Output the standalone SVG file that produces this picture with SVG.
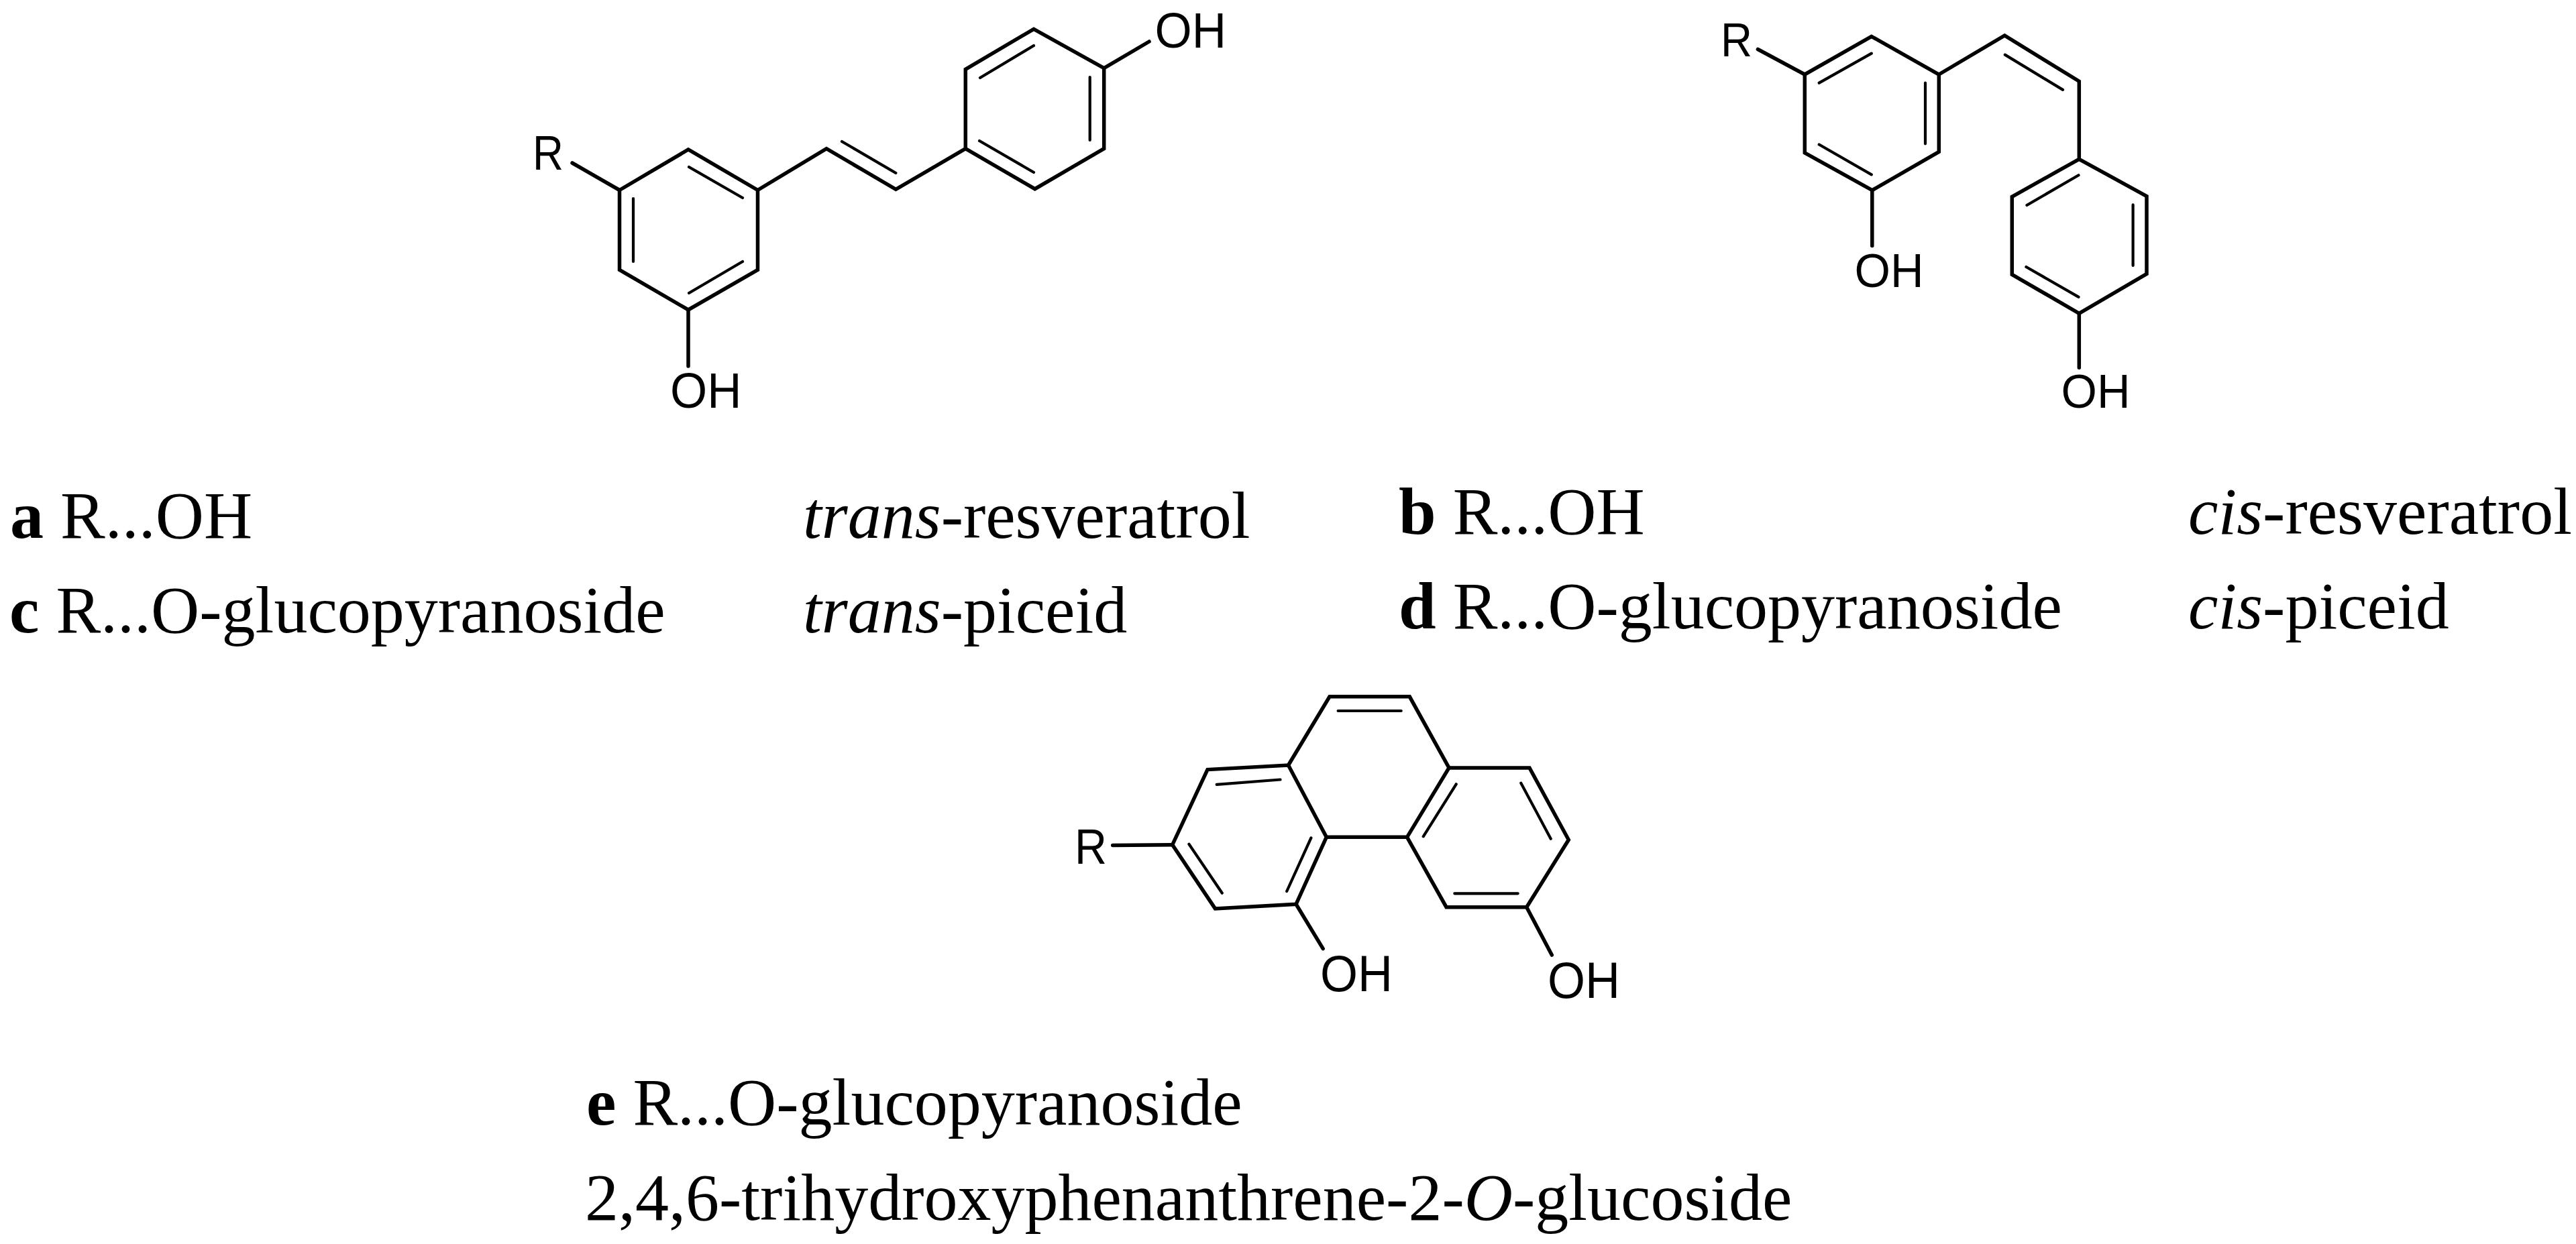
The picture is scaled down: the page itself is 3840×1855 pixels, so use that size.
<svg xmlns="http://www.w3.org/2000/svg" width="3840" height="1855" viewBox="0 0 3840 1855">
<style>
.b{fill:none;stroke:#000;stroke-width:5.5;stroke-linejoin:miter;stroke-linecap:butt}
.e{fill:none;stroke:#000;stroke-width:5.5;stroke-linecap:round}
.i{fill:none;stroke:#000;stroke-width:4.2;stroke-linecap:round}
.l{font-family:"Liberation Sans",Arial,sans-serif;fill:#000}
.c{font-family:"Liberation Serif","Times New Roman",serif;font-size:100px;fill:#000}
.bd{font-weight:700}.it{font-style:italic}
</style>
<rect width="3840" height="1855" fill="#fff"/>
<g id="trans-structure">
<path class="b" d="M923.5 283.5L1026 223L1129.5 283.5V402.5L1026 462L923.5 402.5Z"/>
<path class="b" d="M1129.5 283.5L1232 221.6L1335.4 282.4L1439.3 221.7V103.3L1541 43.3L1645.7 101.7V221.7L1542.7 281.7L1439.3 221.7"/>
<path class="e" d="M923.5 283.5L853 243M1645.7 101.7L1713 62M1026 462V546"/>
<path class="i" d="M944 296V390M1027 249L1107 295M1107 390L1027 437M1255 211L1335.4 258M1461 116L1541 68M1624.7 115V209M1460 210L1541 257"/>
<text class="l" x="794" y="252.5" font-size="73" textLength="46" lengthAdjust="spacingAndGlyphs">R</text>
<text class="l" x="1721.5" y="70.5" font-size="74" textLength="106.5" lengthAdjust="spacingAndGlyphs">OH</text>
<text class="l" x="999" y="608" font-size="74" textLength="106.5" lengthAdjust="spacingAndGlyphs">OH</text>
</g>
<g id="cis-structure">
<path class="b" d="M2690.3 111L2789.8 54.3L2890.3 111V226.5L2790.8 283.7L2690.3 227.8Z"/>
<path class="b" d="M2890.3 111L2988.3 53L3099.3 121.2V237.3L3200 292.7V408.3L3099.3 467.3L2999.3 409.3V293.3L3099.3 237.3"/>
<path class="e" d="M2690.3 111L2620.4 73.5M2790.8 283.7V366.5M3099.3 467.3V548.3"/>
<path class="i" d="M2711.7 123.7L2789.8 79.6M2870 123.7V214.3M2711.7 215.5L2789.8 260.4M2988.8 81.6L3075 133.9M3098.5 261.2L3021.4 306M3179.6 305.3V396M3020.4 398L3098.5 442.9"/>
<text class="l" x="2565" y="84" font-size="71" textLength="47" lengthAdjust="spacingAndGlyphs">R</text>
<text class="l" x="2764.5" y="428" font-size="71" textLength="103" lengthAdjust="spacingAndGlyphs">OH</text>
<text class="l" x="3072.6" y="608.3" font-size="71" textLength="103" lengthAdjust="spacingAndGlyphs">OH</text>
</g>
<g id="phenanthrene-structure">
<path class="b" d="M1920.5 1141L1982 1038.8H2101.3L2160 1145L2097.5 1248.3H1977.3L1920.5 1141L1800 1147.6L1747.7 1259.7L1811.4 1354.9L1932 1348.3L1977.3 1248.3"/>
<path class="b" d="M2160 1145H2280L2338.3 1252.3L2275.7 1352.7H2156L2097.5 1248.3"/>
<path class="e" d="M1747.7 1259.7L1658.7 1260.4M1932 1348.3L1972.2 1414.6M2275.7 1352.7L2313.3 1424"/>
<path class="i" d="M1994.6 1060H2088.7M1813.7 1169.8L1908.5 1162.5M1772.4 1258.7L1821.8 1331.7M1918.2 1329L1954.4 1249.4M2121.7 1247.3L2170.7 1169.3M2267.3 1167.7L2311.7 1250.7M2168.3 1332.3H2262.7"/>
<text class="l" x="1602" y="1288" font-size="75" textLength="48" lengthAdjust="spacingAndGlyphs">R</text>
<text class="l" x="1968" y="1477.5" font-size="76" textLength="108" lengthAdjust="spacingAndGlyphs">OH</text>
<text class="l" x="2307" y="1488" font-size="76" textLength="108" lengthAdjust="spacingAndGlyphs">OH</text>
</g>
<g id="captions">
<text class="c" x="15" y="802"><tspan class="bd">a</tspan> R...OH</text>
<text class="c" x="1197" y="802"><tspan class="it">trans</tspan>-resveratrol</text>
<text class="c" x="14" y="943"><tspan class="bd">c</tspan> R...O-glucopyranoside</text>
<text class="c" x="1197" y="943"><tspan class="it">trans</tspan>-piceid</text>
<text class="c" x="2085" y="796"><tspan class="bd">b</tspan> R...OH</text>
<text class="c" x="3262" y="796"><tspan class="it">cis</tspan>-resveratrol</text>
<text class="c" x="2085" y="937"><tspan class="bd">d</tspan> R...O-glucopyranoside</text>
<text class="c" x="3262" y="937"><tspan class="it">cis</tspan>-piceid</text>
<text class="c" x="874" y="1677"><tspan class="bd">e</tspan> R...O-glucopyranoside</text>
<text class="c" x="872" y="1819">2,4,6-trihydroxyphenanthrene-2-<tspan class="it">O</tspan>-glucoside</text>
</g>
</svg>
